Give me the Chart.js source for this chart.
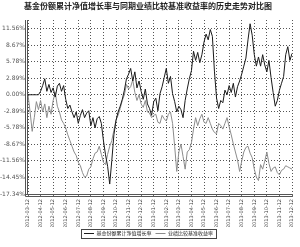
<!DOCTYPE html>
<html>
<head>
<meta charset="utf-8">
<script src="https://cdn.jsdelivr.net/npm/chart.js@4"></script>
<style>
  html, body { margin: 0; padding: 0; background: #fff; }
  #wrap { width: 300px; height: 247px; }
</style>
</head>
<body>
<div id="wrap"><canvas id="trendChart" width="300" height="247"></canvas></div>
<script>
// --- данные ---
const chartTitle = "基金份额累计净值增长率与同期业绩比较基准收益率的历史走势对比图";
const seriesNames = ["基金份额累计净值增长率", "业绩比较基准收益率"];

const dateLabels = [
  "2012-03-12", "2012-04-12", "2012-05-12", "2012-06-12", "2012-07-12", "2012-08-12",
  "2012-09-12", "2012-10-12", "2012-11-12", "2012-12-12", "2013-01-12", "2013-02-12",
  "2013-03-12", "2013-04-12", "2013-05-12", "2013-06-12", "2013-07-12", "2013-08-12",
  "2013-09-12", "2013-10-12", "2013-11-12", "2013-12-12"
];

const yTickValues = [11.56, 8.67, 5.78, 2.89, 0, -2.89, -5.78, -8.67, -11.56, -14.45, -17.34];

const fundValues = [
  0, 0, 0, 0, 0, 0, 0.6, 1.6, 2.8, 0.6,
  1.8, 0.4, 1.2, -0.4, 1.5, 2.0, 0.6, 1.6, -0.8, -2.4,
  -1.8, -3.0, -4.0, -3.0, -5.0, -3.6, -2.6, -4.0, -3.2, -2.8,
  -5.4, -4.0, -5.8, -4.2, -3.8, -5.0, -8.0, -10.5, -12.5, -15.6,
  -11.5, -7.0, -4.5, -3.0, -2.0, -0.8, 0.8, 2.8, 3.6, 4.6,
  2.4, 4.0, 1.2, 2.4, 0.6, -0.8, 1.0, -1.6, -2.4, -3.6,
  -1.2, -0.6, -2.8, 0.2, 1.4, 3.0, 4.6, 2.0, 3.2, 0.2,
  -1.2, -3.0, -2.0, -2.6, -4.0, -1.0, 1.0, 2.8, 4.2, 7.6,
  6.0, 7.4, 5.6, 7.0, 9.2, 10.6, 9.6, 11.4, 10.2, 4.0,
  -0.6, -2.4, -1.0, -1.4, 0.8, 0.0, 1.6, 0.4, 2.0, -0.4,
  1.4, 2.4, 3.6, 5.0, 6.4, 9.6, 12.4, 10.4, 7.0, 5.0,
  6.6, 5.0, 7.0, 5.2, 4.0, 6.0, 3.0, 0.4, -2.0, -1.0,
  0.8, 2.0, 3.2, 7.0, 8.4, 6.0, 7.2
];

const benchValues = [
  0, -3.0, -6.4, -4.0, -1.2, -2.6, -1.0, -3.0, -1.6, -4.0,
  -2.0, -3.4, -1.0, 0.4, -2.0, -3.0, -4.4, -5.0, -5.8, -7.0,
  -8.0, -9.0, -10.0, -10.6, -11.8, -12.4, -13.6, -14.4, -14.2, -13.0,
  -12.6, -11.2, -10.2, -10.0, -9.0, -10.4, -11.8, -12.2, -10.4, -9.0,
  -8.0, -6.2, -4.4, -3.6, -2.4, -1.0, 0.0, 1.8, 1.0, 1.4,
  2.6, 0.4, -1.0, 0.0, -1.6, -2.2, -1.0, -3.0, -3.2, -4.0,
  -3.6, -3.4, -4.8, -5.0, -3.6, -4.2, -4.6, -3.4, -3.0, -5.0,
  -9.0, -13.4, -10.0, -8.6, -10.8, -13.0, -10.0, -9.6, -8.4, -6.0,
  -4.0, -5.4, -4.2, -3.4, -4.8, -5.0, -4.0, -5.0, -6.0, -6.6,
  -6.8, -5.0, -5.4, -6.0, -5.0, -4.0, -5.6, -7.0, -8.6, -10.0,
  -11.4, -13.4, -11.6, -10.0, -9.2, -9.0, -10.2, -11.0, -13.0, -14.4,
  -15.0, -12.2, -13.0, -11.6, -10.0, -12.0, -13.4, -12.8, -12.6, -13.6,
  -14.0, -13.2, -13.0, -12.4, -12.6, -12.8, -13.0
];

const POINTS_PER_LABEL = 6;

// --- двойная рамка осей, заголовок и рамка легенды ---
const decorPlugin = {
  id: "decor",
  afterDraw(chart) {
    const { ctx, chartArea } = chart;
    ctx.save();
    ctx.strokeStyle = "#555";
    ctx.lineWidth = 1;
    ctx.beginPath();
    ctx.moveTo(chartArea.left - 2.5, chartArea.top);
    ctx.lineTo(chartArea.left - 2.5, chartArea.bottom + 2.5);
    ctx.moveTo(chartArea.left - 0.5, chartArea.top);
    ctx.lineTo(chartArea.left - 0.5, chartArea.bottom + 0.5);
    ctx.moveTo(chartArea.left - 2.5, chartArea.bottom + 0.5);
    ctx.lineTo(chartArea.right, chartArea.bottom + 0.5);
    ctx.moveTo(chartArea.left - 2.5, chartArea.bottom + 2.5);
    ctx.lineTo(chartArea.right, chartArea.bottom + 2.5);
    ctx.stroke();

    // заголовок
    ctx.fillStyle = "#222";
    ctx.font = "bold 8px 'Noto Sans CJK SC'";
    ctx.textAlign = "center";
    ctx.textBaseline = "middle";
    ctx.fillText(chartTitle, 148, 6);

    // рамка вокруг легенды
    const lg = chart.legend;
    if (lg && lg.legendHitBoxes && lg.legendHitBoxes.length) {
      const boxes = lg.legendHitBoxes;
      const x0 = boxes[0].left - 3;
      const x1 = boxes[boxes.length - 1].left + boxes[boxes.length - 1].width + 3;
      const y0 = boxes[0].top - 2;
      const y1 = boxes[0].top + boxes[0].height + 2;
      ctx.strokeStyle = "#444";
      ctx.strokeRect(Math.round(x0) + 0.5, Math.round(y0) + 0.5, Math.round(x1 - x0), Math.round(y1 - y0));
    }
    ctx.restore();
  }
};

const ctx = document.getElementById("trendChart").getContext("2d");

new Chart(ctx, {
  type: "line",
  data: {
    datasets: [
      {
        label: seriesNames[0],
        data: fundValues.map((v, i) => ({ x: i, y: v })),
        borderColor: "#1a1a1a",
        backgroundColor: "#1a1a1a",
        borderWidth: 1,
        pointRadius: 0,
        pointStyle: "line",
        tension: 0
      },
      {
        label: seriesNames[1],
        data: benchValues.map((v, i) => ({ x: i, y: v })),
        borderColor: "#8c8c8c",
        backgroundColor: "#8c8c8c",
        borderWidth: 1,
        pointRadius: 0,
        pointStyle: "line",
        tension: 0
      }
    ]
  },
  options: {
    responsive: false,
    animation: false,
    layout: { padding: { top: 20, left: 0, right: 3, bottom: 1 } },
    plugins: {
      title: { display: false },
      tooltip: { enabled: false },
      legend: {
        display: true,
        position: "bottom",
        labels: {
          usePointStyle: true,
          pointStyleWidth: 10,
          boxHeight: 5,
          padding: 4,
          color: "#222",
          font: { family: "'Noto Sans CJK SC'", size: 5 }
        }
      }
    },
    scales: {
      x: {
        type: "linear",
        min: 0,
        max: fundValues.length - 1,
        afterBuildTicks(scale) {
          scale.ticks = dateLabels.map((d, k) => ({ value: k * POINTS_PER_LABEL }));
        },
        afterFit(scale) { scale.height = 33; },
        ticks: {
          autoSkip: false,
          maxRotation: 90,
          minRotation: 90,
          padding: 2,
          color: "#444",
          font: { family: "DejaVu Sans", size: 5 },
          callback: (v) => dateLabels[Math.round(v / POINTS_PER_LABEL)]
        },
        grid: { color: "#555", lineWidth: 1, drawTicks: true, tickLength: 3, tickColor: "#666" },
        border: { display: false, dash: [1, 2] }
      },
      y: {
        min: -17.34,
        max: 13.06,
        afterBuildTicks(scale) {
          scale.ticks = yTickValues.map(v => ({ value: v }));
        },
        afterFit(scale) { scale.width = 28; },
        ticks: {
          padding: 3,
          color: "#555",
          font: { family: "DejaVu Sans", size: 6 },
          callback: (v) => v.toFixed(2) + "%"
        },
        grid: { color: "#555", lineWidth: 1, drawTicks: false },
        border: { display: false, dash: [1, 2] }
      }
    }
  },
  plugins: [decorPlugin]
});
</script>
</body>
</html>
